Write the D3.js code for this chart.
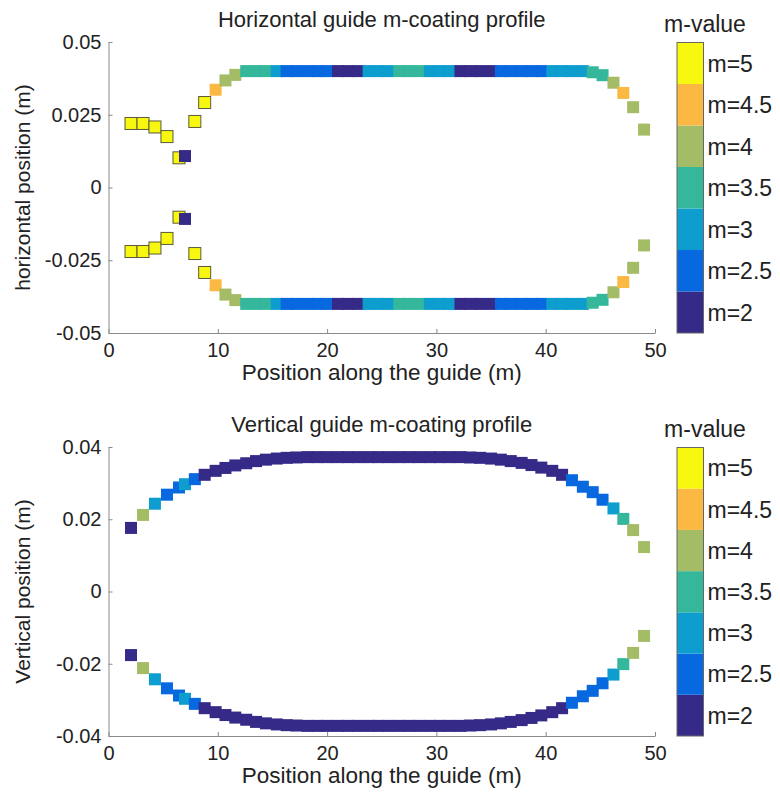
<!DOCTYPE html>
<html>
<head>
<title>m-coating profiles</title>
<script src="https://d3js.org/d3.v7.min.js"></script>
<style>
 body {margin:0; background:#fff;}
 text {font-family:"Liberation Sans", Arial, sans-serif; fill:#222;}
</style>
</head>
<body>
<svg width=780 height=793></svg>
<script>
// positions of the guide sections along the beam (m), shared by both plots
var xPos = [2.06,3.16,4.25,5.35,6.45,7.0,
  7.9,8.8,9.8,10.7,11.6,12.6,13.5,14.4,15.4,16.3,17.2,
  18.2,19.1,20.0,21.0,21.9,22.8,23.8,24.7,25.6,26.6,27.5,28.4,29.4,30.3,31.2,32.2,
  33.1,34.0,35.0,35.9,36.8,37.8,38.7,39.6,40.6,41.5,42.4,43.4,44.3,45.2,46.2,47.1,48.0,49.0];

// horizontal guide: half width (m) and m-value
var horizY = [0.022,0.022,0.0208,0.0175,0.0102,0.0108,
  0.0227,0.0292,0.0336,0.0368,0.0387,0.04,0.04,0.04,0.04,0.04,0.04,
  0.04,0.04,0.04,0.04,0.04,0.04,0.04,0.04,0.04,0.04,0.04,0.04,0.04,0.04,0.04,0.04,
  0.04,0.04,0.04,0.04,0.04,0.04,0.04,0.04,0.04,0.04,0.04,0.04,0.0396,0.0386,0.036,0.0325,0.0276,0.0199];
var horizM = [5,5,5,5,5,2,
  5,5,4.5,4,4,3.5,3.5,3.5,3,2.5,2.5,
  2.5,2.5,2.5,2,2,2,3,3,3,3.5,3.5,3.5,3,3,3,2,
  2,2,2,2.5,2.5,2.5,2.5,2.5,3,3,3,3,3.5,3.5,4,4.5,4,4];

// vertical guide: half height (m) and m-value
var vertY = [0.0176,0.0212,0.0243,0.0268,0.0288,0.0297,
  0.0311,0.0323,0.0334,0.0342,0.0349,0.0355,0.0361,0.0365,0.0368,0.037,0.0371,
  0.0372,0.0372,0.0372,0.0372,0.0372,0.0372,0.0372,0.0372,0.0372,0.0372,0.0372,0.0372,0.0372,0.0372,0.0372,0.0372,
  0.0371,0.037,0.0368,0.0365,0.0361,0.0356,0.035,0.0343,0.0334,0.0323,0.0308,0.029,0.0275,0.0254,0.023,0.0201,0.017,0.0123];
var vertM = [2,4,3,2.5,2.5,3,
  2.5,2,2,2,2,2,2,2,2,2,2,
  2,2,2,2,2,2,2,2,2,2,2,2,2,2,2,2,
  2,2,2,2,2,2,2,2,2,2,2.5,2.5,2.5,2.5,3,3.5,4,4];

var mLevels = [2,2.5,3,3.5,4,4.5,5];
var mColors = ["#352a87","#0868e0","#0d9dce","#35b79c","#a5bc67","#fbb944","#f7f70f"];
var xTicks = [0,10,20,30,40,50];
var hTicks = [-0.05,-0.025,0,0.025,0.05];
var vTicks = [-0.04,-0.02,0,0.02,0.04];

var svg = d3.select("svg");
var color = d3.scaleOrdinal().domain(mLevels).range(mColors);
var x = d3.scaleLinear().domain([0,50]).range([108.5,655]);
var msize = 12;

function panel(top, bottom, yDom, yTicks, yData, mData, title, ylabel) {
  var y = d3.scaleLinear().domain(yDom).range([bottom, top]);
  var g = svg.append("g");

  // points, upper rail then lower rail
  [1,-1].forEach(function(s) {
    g.append("g").selectAll("rect")
      .data(xPos.map(function(d,i){ return {x:d, y:s*yData[i], m:mData[i]}; }))
      .enter().append("rect")
      .attr("x", function(d){ return x(d.x)-msize/2; })
      .attr("y", function(d){ return y(d.y)-msize/2; })
      .attr("width", msize).attr("height", msize)
      .attr("fill", function(d){ return color(d.m); })
      .attr("stroke", function(d){ return d.m==5 ? "#5a5a3a" : "none"; })
      .attr("stroke-width", 1);
  });

  // axes, ticks pointing inside like matlab
  var ya = g.append("g").attr("transform","translate("+x.range()[0]+",0)")
    .call(d3.axisLeft(y).tickValues(yTicks).tickSizeInner(-4).tickSizeOuter(0).tickPadding(7)
      .tickFormat(function(d){ return String(d); }));
  var xa = g.append("g").attr("transform","translate(0,"+bottom+")")
    .call(d3.axisBottom(x).tickValues(xTicks).tickSizeInner(-4).tickSizeOuter(0).tickPadding(10));
  [ya,xa].forEach(function(a){
    a.selectAll("path,line").attr("stroke","#8a8a8a");
    a.selectAll("text").attr("font-size",20).attr("fill","#222")
      .attr("font-family","Liberation Sans, Arial, sans-serif");
  });

  // title and labels
  var cx = (x.range()[0]+x.range()[1])/2;
  g.append("text").attr("x",cx).attr("y",top-15).attr("text-anchor","middle")
    .attr("font-size",22).text(title);
  g.append("text").attr("x",cx).attr("y",bottom+47).attr("text-anchor","middle")
    .attr("font-size",22.5).text("Position along the guide (m)");
  g.append("text").attr("transform","translate(30,"+(top+bottom)/2+") rotate(-90)")
    .attr("text-anchor","middle").attr("font-size",21).text(ylabel);

  // colorbar
  var cb = d3.scaleBand().domain(mLevels.slice().reverse()).range([top+0.5, bottom]);
  var cbx = 677, cbw = 26.5;
  g.append("g").selectAll("rect").data(mLevels).enter().append("rect")
    .attr("x",cbx).attr("y",function(d){ return cb(d); })
    .attr("width",cbw).attr("height",cb.bandwidth())
    .attr("fill",function(d){ return color(d); });
  g.append("rect").attr("x",cbx).attr("y",cb.range()[0]).attr("width",cbw)
    .attr("height",cb.range()[1]-cb.range()[0]).attr("fill","none").attr("stroke","#666");
  g.append("g").selectAll("text").data(mLevels).enter().append("text")
    .attr("x",cbx+cbw+4).attr("y",function(d){ return cb(d)+cb.bandwidth()/2; })
    .attr("dy","0.36em").attr("font-size",23).text(function(d){ return "m="+d; });
  g.append("text").attr("x",705).attr("y",top-10).attr("text-anchor","middle")
    .attr("font-size",23).text("m-value");
}

panel(42, 333, [-0.05,0.05], hTicks, horizY, horizM, "Horizontal guide m-coating profile", "horizontal position (m)");
panel(447, 736, [-0.04,0.04], vTicks, vertY, vertM, "Vertical guide m-coating profile", "Vertical position (m)");
</script>
</body>
</html>
